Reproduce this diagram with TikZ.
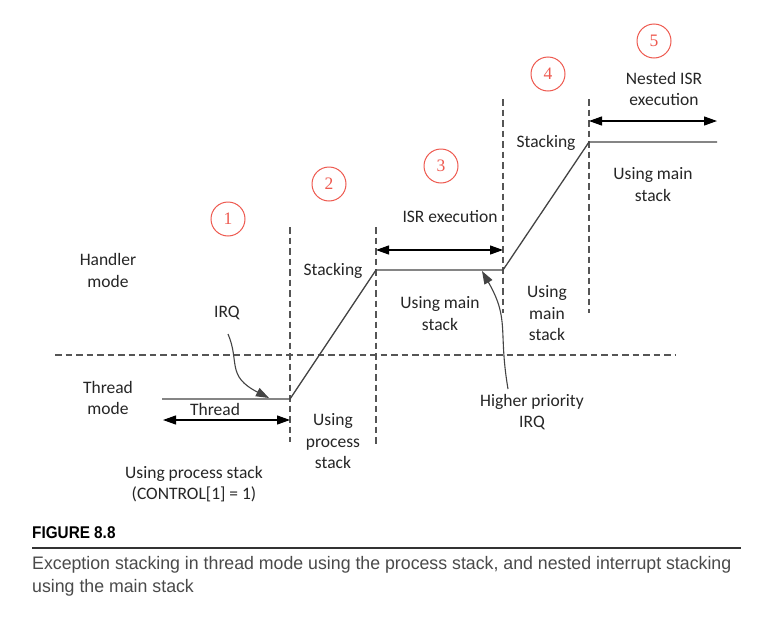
\documentclass[tikz,border=0pt]{standalone}
\usepackage{fontspec}
\setmainfont{Carlito}
\newfontfamily\capfont[FakeStretch=0.98]{Liberation Sans}
\newfontfamily\figfont[FakeStretch=0.9]{Liberation Sans}
\newfontfamily\numfont{Liberation Serif}
\usetikzlibrary{arrows.meta}
\definecolor{numred}{HTML}{EE5A50}
\definecolor{txt}{HTML}{262626}
\definecolor{ln}{HTML}{444444}
\definecolor{dsh}{HTML}{555555}
\definecolor{captxt}{HTML}{4A4A4A}
\begin{document}
\begin{tikzpicture}[x=1pt,y=-1pt,
  lbl/.style={font=\fontsize{17.5}{21.5}\selectfont, align=center, text=txt, inner sep=0pt},
  num/.style={circle, draw=numred, line width=1pt, minimum size=34pt, inner sep=0pt,
    text=numred, font=\numfont\fontsize{17.5}{17.5}\selectfont},
  dline/.style={draw=dsh, line width=1.1pt, dash pattern=on 6.5pt off 4pt},
  sline/.style={draw=ln, line width=1.3pt},
  tip/.style={-{Triangle[length=13pt,width=9pt]}},
  dtip/.style={{Triangle[length=13pt,width=9pt]}-{Triangle[length=13pt,width=9pt]}, draw=black, line width=1.2pt},
]
\useasboundingbox (0,0) rectangle (782,632);
\fill[white] (0,0) rectangle (782,632);

% step numbers
\node[num] (c1) at (228,219) {1};
\node[num] (c2) at (329,184) {2};
\node[num] (c3) at (441,166) {3};
\node[num] (c4) at (548,74) {4};
\node[num] (c5) at (654,41) {5};

% dashed boundaries
\coordinate (v1t) at (290,227); \coordinate (v1b) at (290,442);
\coordinate (v2t) at (376,227); \coordinate (v2b) at (376,447);
\coordinate (v3t) at (503,99);  \coordinate (v3b) at (503,313);
\coordinate (v4t) at (589,99);  \coordinate (v4b) at (589,313);
\coordinate (hl) at (55,355);   \coordinate (hr) at (676,355);
\draw[dline] (v1t) -- (v1b);
\draw[dline] (v2t) -- (v2b);
\draw[dline] (v3t) -- (v3b);
\draw[dline] (v4t) -- (v4b);
\draw[dline] (hl) -- (hr);

% stack level path
\coordinate (p0) at (162,399);
\coordinate (p1) at (290,399);
\coordinate (p2) at (376,270);
\coordinate (p3) at (503,270);
\coordinate (p4) at (589,142);
\coordinate (p5) at (717,142);
\draw[sline] (p0) -- (p1) -- (p2) -- (p3) -- (p4) -- (p5);

% duration arrows
\coordinate (a1l) at (163,420); \coordinate (a1r) at (290,420);
\coordinate (a2l) at (376,250); \coordinate (a2r) at (503,250);
\coordinate (a3l) at (589,121); \coordinate (a3r) at (717,121);
\draw[dtip] (a1l) -- (a1r);
\draw[dtip] (a2l) -- (a2r);
\draw[dtip] (a3l) -- (a3r);

% labels
\node[lbl] (handler) at (108,270.5) {Handler\\mode};
\node[lbl] (irq) at (227,313) {IRQ};
\node[lbl] (thmode) at (108,398) {Thread\\mode};
\node[lbl] (thread) at (215,409) {Thread};
\node[lbl] (ups) at (194,484) {Using process stack\\(CONTROL[1] = 1)};
\node[lbl] (stk2) at (333,271) {Stacking};
\node[lbl] (ups2) at (333,441.5) {Using\\process\\stack};
\node[lbl] (isr) at (450,217) {ISR execution};
\node[lbl] (ums3) at (440,313.5) {Using main\\stack};
\node[lbl] (stk4) at (546,143) {Stacking};
\node[lbl] (ums4) at (547,313.5) {Using\\main\\stack};
\node[lbl] (nisr) at (664,89) {Nested ISR\\execution};
\node[lbl] (ums5) at (653,184.5) {Using main\\stack};
\node[lbl] (hirq) at (532,412) {Higher priority\\IRQ};

% IRQ pointers
\coordinate (irqs) at (228,334);
\coordinate (irqt) at (269,398);
\draw[sline, line width=1.1pt, tip] (irqs) .. controls (240,362) and (226,376) .. (irqt);
\coordinate (hirqs) at (508,389);
\coordinate (hirqt) at (482,271);
\draw[sline, line width=1.1pt, tip] (hirqs) .. controls (498,330) and (510,320) .. (hirqt);

% caption
\node[anchor=west, inner sep=0pt, font=\figfont\bfseries\fontsize{17}{17}\selectfont, text=black] (fig) at (32,533) {FIGURE 8.8};
\coordinate (rl) at (32,548); \coordinate (rr) at (741,548);
\draw[draw=black!80, line width=2.4pt] (rl) -- (rr);
\node[anchor=north west, inner sep=0pt, align=left, text=captxt,
  font=\capfont\fontsize{18.1}{23}\selectfont] (cap) at (32,556)
  {Exception stacking in thread mode using the process stack, and nested interrupt stacking\\using the main stack};
\end{tikzpicture}
\end{document}
